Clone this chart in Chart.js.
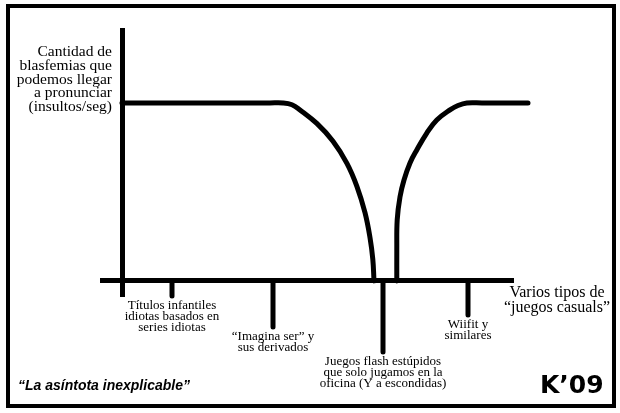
<!DOCTYPE html>
<html>
<head>
<meta charset="utf-8">
<script src="https://cdn.jsdelivr.net/npm/chart.js@4"></script>
<style>
body { margin: 0; background: #fff; }
</style>
</head>
<body>
<canvas id="myChart" width="620" height="413"></canvas>
<script>
// categories on the x axis (multi-line labels) and where they sit on it
var categories = [
	["Títulos infantiles", "idiotas basados en", "series idiotas"],
	["“Imagina ser” y", "sus derivados"],
	["Juegos flash estúpidos", "que solo jugamos en la", "oficina (Y a escondidas)"],
	["Wiifit y", "similares"]
];
var categoryX = [12.5, 37.75, 65.25, 86.5];

// insultos/seg: branch before and after the asymptote
var leftX = [0, 30, 37, 40.25, 42.5, 44.5, 48.7, 52.75, 56.2, 58.7, 60.75, 62, 62.7, 63];
var leftY = [100, 100, 100, 100, 99, 96.1, 88.5, 78.5, 66.2, 53.3, 38.3, 24.3, 12.1, 0];
var rightX = [68.7, 68.7, 68.8, 69.5, 70.5, 72, 73.7, 76.2, 78.7, 82, 84, 86.2, 90, 101.5];
var rightY = [0, 17.4, 34.3, 47.2, 56.7, 66.3, 73.6, 83.1, 90.4, 96.1, 98.6, 100, 100, 100];

var yTitle = ["Cantidad de", "blasfemias que", "podemos llegar", "a pronunciar", "(insultos/seg)"];
var xTitle = ["Varios tipos de", "“juegos casuals”"];
var caption = "“La asíntota inexplicable”";
var signature = "K’09";

// how far each tick drops below the axis (px)
var tickDrop = [15, 46, 71, 34];

function toPoints(xs, ys){
	var pts = [];
	for (var i = 0; i < xs.length; i++){
		pts.push({x: xs[i], y: ys[i]});
	}
	return pts;
}

var comicPlugin = {
	id: 'comic',
	afterDraw: function(chart){
		var ctx = chart.ctx;
		var xs = chart.scales.x;
		var ys = chart.scales.y;
		var y0 = ys.getPixelForValue(0);
		ctx.save();

		// panel frame
		ctx.strokeStyle = '#000';
		ctx.lineWidth = 4;
		ctx.strokeRect(8, 6, 606, 400);

		// ticks with different lengths + labels
		ctx.lineCap = 'round';
		ctx.lineWidth = 5;
		ctx.fillStyle = '#000';
		ctx.textAlign = 'center';
		ctx.textBaseline = 'middle';
		ctx.font = '13px "Liberation Serif"';
		for (var i = 0; i < categories.length; i++){
			var px = xs.getPixelForValue(categoryX[i]);
			ctx.beginPath();
			ctx.moveTo(px, y0);
			ctx.lineTo(px, y0 + tickDrop[i]);
			ctx.stroke();
			for (var j = 0; j < categories[i].length; j++){
				ctx.fillText(categories[i][j], px, y0 + tickDrop[i] + 10 + j * 11);
			}
		}

		// y axis title (horizontal, right aligned)
		ctx.font = '15.5px "Liberation Serif"';
		ctx.textAlign = 'right';
		for (var k = 0; k < yTitle.length; k++){
			ctx.fillText(yTitle[k], 112, 52 + k * 13.8);
		}

		// x axis title
		ctx.font = '16px "Liberation Serif"';
		ctx.textAlign = 'center';
		for (var m = 0; m < xTitle.length; m++){
			ctx.fillText(xTitle[m], 557, 293 + m * 15);
		}

		// caption + signature
		ctx.textAlign = 'left';
		ctx.font = 'italic bold 14px "Liberation Sans"';
		ctx.fillText(caption, 18, 386);
		ctx.font = 'bold 25px "DejaVu Sans"';
		ctx.fillText(signature, 540, 386);

		ctx.restore();
	}
};

var lineStyle = {
	borderColor: '#000',
	borderWidth: 5,
	borderCapStyle: 'round',
	borderJoinStyle: 'round',
	pointRadius: 0,
	tension: 0.4,
	fill: false,
	clip: false
};

var ctx = document.getElementById('myChart');
var myChart = new Chart(ctx, {
	type: 'line',
	data: {
		datasets: [
			Object.assign({label: 'antes', data: toPoints(leftX, leftY)}, lineStyle),
			Object.assign({label: 'después', data: toPoints(rightX, rightY)}, lineStyle)
		]
	},
	options: {
		responsive: false,
		animation: false,
		devicePixelRatio: 1,
		layout: {padding: {left: 102, right: 107, top: 30, bottom: 117}},
		plugins: {
			legend: {display: false},
			tooltip: {enabled: false}
		},
		scales: {
			x: {
				type: 'linear',
				min: -5,
				max: 97.75,
				position: {y: 0},
				grid: {display: false},
				ticks: {display: false},
				border: {display: true, color: '#000', width: 5}
			},
			y: {
				type: 'linear',
				min: -8.5,
				max: 141,
				position: {x: 0},
				grid: {display: false},
				ticks: {display: false},
				border: {display: true, color: '#000', width: 5}
			}
		}
	},
	plugins: [comicPlugin]
});
</script>
</body>
</html>
